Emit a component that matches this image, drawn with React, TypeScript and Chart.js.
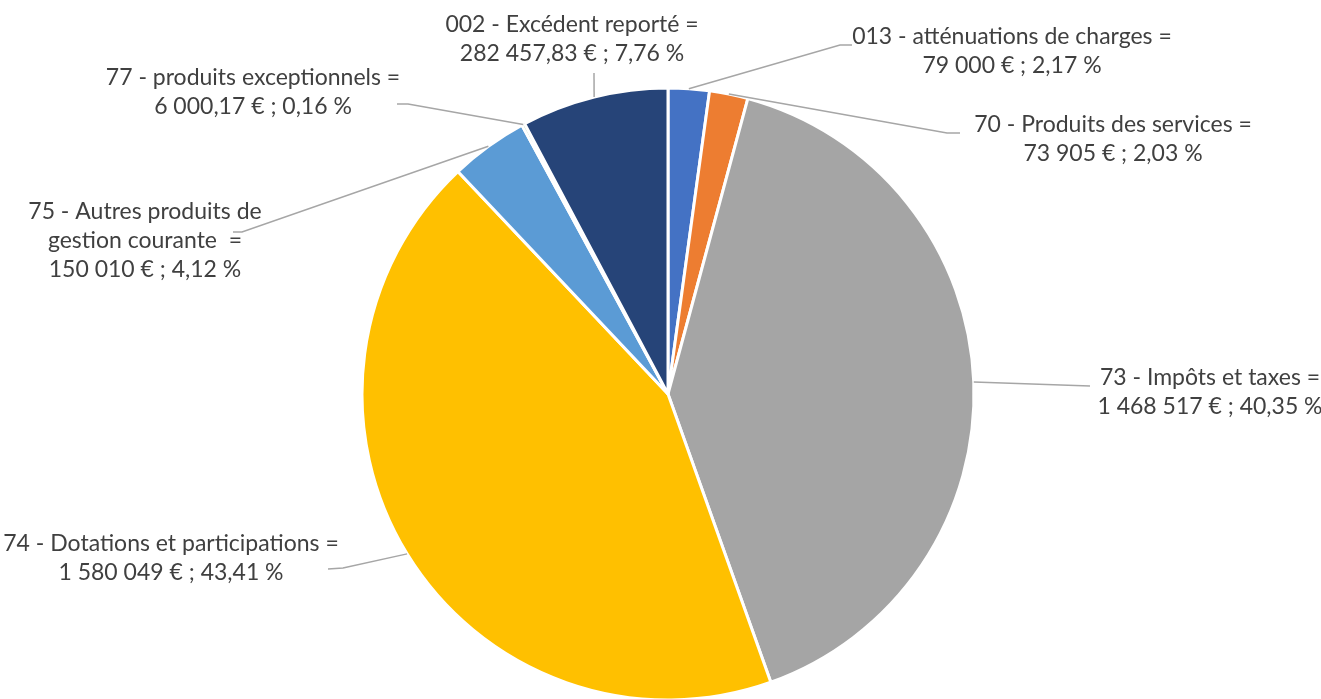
import React, { useEffect, useRef } from "react";
import { Chart, registerables } from "chart.js";

Chart.register(...registerables);

// ---- data ----
const categories: string[] = [
  "013 - atténuations de charges",
  "70 - Produits des services",
  "73 - Impôts et taxes",
  "74 - Dotations et participations",
  "75 - Autres produits de gestion courante",
  "77 - produits exceptionnels",
  "002 - Excédent reporté",
];
const values: number[] = [79000, 73905, 1468517, 1580049, 150010, 6000.17, 282457.83];
const labelLines: string[][] = [
  ["013 - atténuations de charges =", "79 000 € ; 2,17 %"],
  ["70 - Produits des services =", "73 905 € ; 2,03 %"],
  ["73 - Impôts et taxes =", "1 468 517 € ; 40,35 %"],
  ["74 - Dotations et participations =", "1 580 049 € ; 43,41 %"],
  ["75 - Autres produits de", "gestion courante  =", "150 010 € ; 4,12 %"],
  ["77 - produits exceptionnels =", "6 000,17 € ; 0,16 %"],
  ["002 - Excédent reporté =", "282 457,83 € ; 7,76 %"],
];
const colors: string[] = ["#4472C4", "#ED7D31", "#A5A5A5", "#FFC000", "#5B9BD5", "#70AD47", "#264478"];

// ---- label layout (text centre x, first line y, leader points on label side) ----
const labelLayout: { cx: number; y: number; pts: [number, number][] }[] = [
  { cx: 1012, y: 37, pts: [[852, 45], [840, 45]] },
  { cx: 1113, y: 125, pts: [[960, 133], [947, 133]] },
  { cx: 1210, y: 378, pts: [[1090, 386]] },
  { cx: 171, y: 544, pts: [[328, 569], [343, 568]] },
  { cx: 145, y: 212, pts: [[233, 232], [242, 232]] },
  { cx: 253, y: 78, pts: [[397, 104], [408, 104]] },
  { cx: 572, y: 25, pts: [[594, 73]] },
];
const LINE_H = 29;

const labelPlugin = {
  id: "outsideLabels",
  afterDatasetsDraw(chart: any) {
    const ctx = chart.ctx as CanvasRenderingContext2D;
    const meta = chart.getDatasetMeta(0);
    ctx.save();
    meta.data.forEach((arc: any, i: number) => {
      const lay = labelLayout[i];
      if (!lay) return;
      const mid = (arc.startAngle + arc.endAngle) / 2;
      const ex = arc.x + Math.cos(mid) * arc.outerRadius;
      const ey = arc.y + Math.sin(mid) * arc.outerRadius;
      ctx.strokeStyle = "#A6A6A6";
      ctx.lineWidth = 1.5;
      ctx.beginPath();
      lay.pts.forEach((p, k) => {
        if (k === 0) ctx.moveTo(p[0], p[1]);
        else ctx.lineTo(p[0], p[1]);
      });
      ctx.lineTo(ex, ey);
      ctx.stroke();

      ctx.fillStyle = "#404040";
      ctx.font = "23px Lato, 'Open Sans', sans-serif";
      ctx.textAlign = "center";
      ctx.textBaseline = "middle";
      labelLines[i].forEach((t, k) => {
        ctx.fillText(t, lay.cx, lay.y + k * LINE_H);
      });
    });
    ctx.restore();
  },
};

export default function App() {
  const ref = useRef<HTMLCanvasElement | null>(null);
  useEffect(() => {
    if (!ref.current) return;
    const chart = new Chart(ref.current, {
      type: "pie",
      data: {
        labels: categories,
        datasets: [
          {
            data: values,
            backgroundColor: colors,
            borderColor: "#FFFFFF",
            borderWidth: 3,
            radius: 306,
          } as any,
        ],
      },
      options: {
        responsive: false,
        animation: false,
        layout: { padding: { left: 361, right: 346, top: 90, bottom: 1 } },
        plugins: {
          legend: { display: false },
          tooltip: { enabled: false },
        },
      },
      plugins: [labelPlugin],
    });
    return () => chart.destroy();
  }, []);
  return (
    <div style={{ position: "fixed", left: 0, top: 0, width: 1321, height: 699, overflow: "hidden", background: "#fff" }}>
      <canvas ref={ref} width={1321} height={699} style={{ display: "block" }} />
    </div>
  );
}
